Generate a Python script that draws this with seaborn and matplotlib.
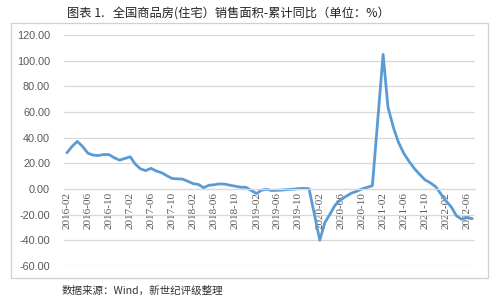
import matplotlib
matplotlib.use("Agg")
import matplotlib.pyplot as plt
from matplotlib.patches import Rectangle
import pandas as pd
import seaborn as sns

# ---- data (cumulative YoY %, Jan merged into Feb) ----
months = [f"{y}-{m:02d}" for y in range(2016, 2023) for m in range(2, 13)][:72]
values_2016 = [28.2, 33.1, 37.1, 33.2, 27.9, 26.4, 26.1, 26.9, 26.8, 24.3, 22.5]
values_2017 = [25.1, 19.5, 15.7, 14.3, 16.1, 14.0, 12.7, 10.3, 8.2, 7.9, 7.7]
values_2018 = [4.1, 3.6, 1.0, 2.9, 3.3, 4.0, 3.8, 2.9, 2.2, 1.4, 1.3]
values_2019 = [-3.6, -0.9, -0.3, -1.2, -1.0, -0.8, -0.4, -0.1, 0.3, 0.5, 0.2]
values_2020 = [-39.9, -26.3, -19.3, -12.3, -8.4, -5.8, -3.3, -1.8, 0.0, 1.3, 2.6]
values_2021 = [104.9, 63.8, 48.1, 36.3, 27.7, 21.5, 15.9, 11.3, 7.1, 4.8, 1.9]
values_2022 = [-9.6, -13.8, -20.9, -23.6, -22.2, -23.1]
values = values_2016 + values_2017 + values_2018 + values_2019 + values_2020 + values_2021 + values_2022
yticks = [-60, -40, -20, 0, 20, 40, 60, 80, 100, 120]
xtick_labels = [f"{y}-{m:02d}" for y in range(2016, 2023) for m in (2, 6, 10)][:-1]

title = "图表 1.   全国商品房(住宅）销售面积-累计同比（单位：%）"
source = "数据来源：Wind，新世纪评级整理"

df = pd.DataFrame({"date": pd.to_datetime(months, format="%Y-%m"), "value": values})

sns.set_style("white")
plt.rcParams["font.family"] = ["Liberation Sans", "DejaVu Sans"]

W, H = 500, 302
fig = plt.figure(figsize=(W / 100, H / 100), dpi=100)
ax = fig.add_axes([64 / W, 1 - 266 / H, (475 - 64) / W, (266 - 35) / H])

sns.lineplot(data=df, x="date", y="value", ax=ax, color="#5B9BD5", linewidth=2.0)

for s in ["top", "right", "left"]:
    ax.spines[s].set_visible(False)
ax.spines["bottom"].set_position(("data", 0))
ax.spines["bottom"].set_color("#D9D9D9")
ax.spines["bottom"].set_linewidth(0.9)

ax.set_ylim(-60, 120)
ax.set_yticks(yticks)
ax.set_yticklabels([f"{v:.2f}" for v in yticks], fontsize=7.8, color="#595959")
ax.set_xlim(pd.Timestamp("2016-01-15"), pd.Timestamp("2022-07-17"))
ax.set_xticks(pd.to_datetime(xtick_labels, format="%Y-%m"))
ax.set_xticklabels(xtick_labels, rotation=90, fontfamily=["Liberation Serif"],
                   fontsize=8, color="#595959", va="top", ha="center")

ax.set_xlabel("")
ax.set_ylabel("")
ax.grid(axis="y", color="#D9D9D9", linewidth=0.9)
ax.grid(axis="x", visible=False)
ax.tick_params(axis="x", length=0, pad=2)
ax.tick_params(axis="y", length=0, pad=10)

# outer frame
fig.patches.append(Rectangle((11 / W, 1 - 278 / H), (488 - 11) / W, (278 - 23) / H,
                             transform=fig.transFigure, fill=False,
                             edgecolor="#D0D0D0", linewidth=0.9))

fig.text(228 / W, 1 - 13 / H, title, ha="center", va="center", fontsize=8.8,
         color="#222222", family=["Noto Sans CJK SC", "DejaVu Sans"])
fig.text(62 / W, 1 - 291 / H, source, ha="left", va="center", fontsize=7.6,
         color="#333333", family=["Noto Sans CJK SC", "DejaVu Sans"])

fig.savefig("out.png", dpi=100)
